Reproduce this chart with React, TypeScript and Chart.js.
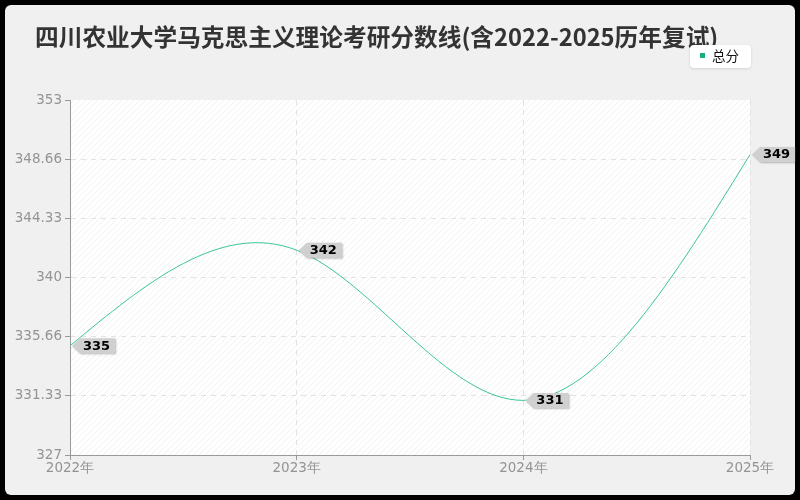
import React, { useEffect, useRef } from 'react';
import { Chart, registerables } from 'chart.js';

Chart.register(...registerables);

const titleText = '四川农业大学马克思主义理论考研分数线(含2022-2025历年复试)';
const seriesName = '总分';
const years = ['2022年', '2023年', '2024年', '2025年'];
const totalScores = [335, 342, 331, 349];
const yTickValues = [327, 331.33, 335.66, 340, 344.33, 348.66, 353];

const LINE_COLOR = '#3cc49c';
const GRID_COLOR = '#e2e2e2';
const AXIS_TEXT = '#939393';

const makeHatch = (ctx: CanvasRenderingContext2D) => {
  const c = document.createElement('canvas');
  c.width = 6;
  c.height = 6;
  const p = c.getContext('2d')!;
  p.fillStyle = '#ffffff';
  p.fillRect(0, 0, 6, 6);
  p.strokeStyle = '#f1f1f1';
  p.lineWidth = 1;
  p.beginPath();
  p.moveTo(0, 6);
  p.lineTo(6, 0);
  p.moveTo(-3, 3);
  p.lineTo(3, -3);
  p.moveTo(3, 9);
  p.lineTo(9, 3);
  p.stroke();
  return ctx.createPattern(c, 'repeat');
};

const backdrop = {
  id: 'backdrop',
  beforeDraw(chart: any) {
    const { ctx, chartArea } = chart;
    ctx.save();
    ctx.fillStyle = '#000000';
    ctx.fillRect(0, 0, chart.width, chart.height);
    ctx.fillStyle = '#f0f0f0';
    ctx.beginPath();
    ctx.roundRect(5, 5, 790, 490, 6);
    ctx.fill();
    const hatch = makeHatch(ctx);
    if (hatch) ctx.fillStyle = hatch;
    ctx.fillRect(chartArea.left, chartArea.top, chartArea.right - chartArea.left, chartArea.bottom - chartArea.top);

    // title
    ctx.fillStyle = '#333333';
    ctx.font = 'bold 23.7px "Noto Sans CJK SC"';
    ctx.textBaseline = 'middle';
    ctx.textAlign = 'left';
    ctx.fillText(titleText, 35, 37);

    // legend
    ctx.shadowColor = 'rgba(0,0,0,0.12)';
    ctx.shadowBlur = 3;
    ctx.shadowOffsetY = 1;
    ctx.fillStyle = '#ffffff';
    ctx.beginPath();
    ctx.roundRect(690, 45, 61, 23, 4);
    ctx.fill();
    ctx.shadowColor = 'transparent';
    ctx.fillStyle = '#1aaf7a';
    ctx.fillRect(700, 53, 5, 5);
    ctx.fillStyle = '#111111';
    ctx.font = '13.5px "Noto Sans CJK SC"';
    ctx.fillText(seriesName, 712, 56);
    ctx.restore();
  },
};

// natural cubic spline through the rendered points, expressed as Bezier control points
const naturalSpline = {
  id: 'naturalSpline',
  beforeDatasetDraw(chart: any, args: any) {
    const meta = args.meta;
    const line = meta.dataset;
    line.updateControlPoints(chart.chartArea, 'x');
    const pts = meta.data;
    const n = pts.length - 1;
    if (n < 2) return;
    const h: number[] = [];
    for (let i = 0; i < n; i++) h.push(pts[i + 1].x - pts[i].x);
    const M = new Array(n + 1).fill(0);
    // tridiagonal system for interior second derivatives
    const a: number[] = [], b: number[] = [], c: number[] = [], d: number[] = [];
    for (let i = 1; i < n; i++) {
      a.push(h[i - 1]);
      b.push(2 * (h[i - 1] + h[i]));
      c.push(h[i]);
      d.push(6 * ((pts[i + 1].y - pts[i].y) / h[i] - (pts[i].y - pts[i - 1].y) / h[i - 1]));
    }
    const m = b.length;
    for (let i = 1; i < m; i++) {
      const w = a[i] / b[i - 1];
      b[i] -= w * c[i - 1];
      d[i] -= w * d[i - 1];
    }
    const sol = new Array(m).fill(0);
    sol[m - 1] = d[m - 1] / b[m - 1];
    for (let i = m - 2; i >= 0; i--) sol[i] = (d[i] - c[i] * sol[i + 1]) / b[i];
    for (let i = 0; i < m; i++) M[i + 1] = sol[i];

    for (let i = 0; i < n; i++) {
      const p0 = pts[i];
      const p1 = pts[i + 1];
      const hi = h[i];
      const s = (p1.y - p0.y) / hi;
      const d0 = s - (hi * (2 * M[i] + M[i + 1])) / 6;
      const d1 = s + (hi * (M[i] + 2 * M[i + 1])) / 6;
      p0.cp2x = p0.x + hi / 3;
      p0.cp2y = p0.y + (d0 * hi) / 3;
      p1.cp1x = p1.x - hi / 3;
      p1.cp1y = p1.y - (d1 * hi) / 3;
    }
    line._path = undefined;
  },
};

const pointTags = {
  id: 'pointTags',
  afterDatasetsDraw(chart: any) {
    const { ctx } = chart;
    const meta = chart.getDatasetMeta(0);
    ctx.save();
    ctx.font = 'bold 13px "DejaVu Sans"';
    meta.data.forEach((pt: any, i: number) => {
      const text = String(totalScores[i]);
      const w = ctx.measureText(text).width;
      const x = pt.x + 2;
      const y = pt.y;
      const boxL = x + 8;
      const boxR = boxL + w + 8;
      ctx.shadowColor = 'rgba(0,0,0,0.25)';
      ctx.shadowBlur = 2;
      ctx.shadowOffsetX = 1;
      ctx.shadowOffsetY = 1;
      ctx.fillStyle = '#d0d0d0';
      ctx.beginPath();
      ctx.moveTo(x, y);
      ctx.lineTo(boxL, y - 7.5);
      ctx.lineTo(boxR, y - 7.5);
      ctx.lineTo(boxR, y + 7.5);
      ctx.lineTo(boxL, y + 7.5);
      ctx.closePath();
      ctx.fill();
      ctx.shadowColor = 'transparent';
      ctx.fillStyle = '#000000';
      ctx.textAlign = 'left';
      ctx.textBaseline = 'middle';
      ctx.fillText(text, boxL + 3, y + 0.5);
    });
    ctx.restore();
  },
};

export default function App() {
  const canvasRef = useRef<HTMLCanvasElement>(null);

  useEffect(() => {
    document.body.style.margin = '0';
    document.body.style.background = '#000';
    if (!canvasRef.current) return;

    const chart = new Chart(canvasRef.current, {
      type: 'line',
      data: {
        labels: years,
        datasets: [
          {
            label: seriesName,
            data: totalScores,
            borderColor: LINE_COLOR,
            borderWidth: 1,
            tension: 0.4,
            pointRadius: 0,
            fill: false,
          },
        ],
      },
      options: {
        animation: false,
        responsive: false,
        devicePixelRatio: 1,
        layout: { padding: { left: 0, top: 100, right: 50, bottom: 0 } },
        plugins: {
          legend: { display: false },
          tooltip: { enabled: false },
          title: { display: false },
        },
        scales: {
          x: {
            offset: false,
            border: { display: true, color: '#999999', dash: [5, 5] },
            grid: {
              color: (c: any) => (c.index === 0 ? 'transparent' : GRID_COLOR),
              tickColor: '#999999',
              tickLength: 5,
            },
            ticks: {
              color: AXIS_TEXT,
              font: { family: 'DejaVu Sans', size: 13.5 },
              padding: 0,
              maxRotation: 0,
            },
            afterFit: (s: any) => {
              s.height = 45;
            },
          },
          y: {
            min: 327,
            max: 353,
            border: { display: true, color: '#999999', dash: [5, 5] },
            grid: {
              color: (c: any) => (c.index === 0 || c.index === 6 ? 'transparent' : GRID_COLOR),
              tickColor: '#999999',
              tickLength: 5,
            },
            afterBuildTicks: (s: any) => {
              s.ticks = yTickValues.map((v) => ({ value: v }));
            },
            ticks: {
              color: AXIS_TEXT,
              font: { family: 'DejaVu Sans', size: 13.5 },
              padding: 3,
              callback: (v: any) => String(v),
            },
            afterFit: (s: any) => {
              s.width = 70;
            },
          },
        },
      },
      plugins: [backdrop, naturalSpline, pointTags],
    });

    return () => {
      chart.destroy();
    };
  }, []);

  return (
    <div style={{ width: 800, height: 500 }}>
      <canvas ref={canvasRef} width={800} height={500} style={{ display: 'block' }}></canvas>
    </div>
  );
}
